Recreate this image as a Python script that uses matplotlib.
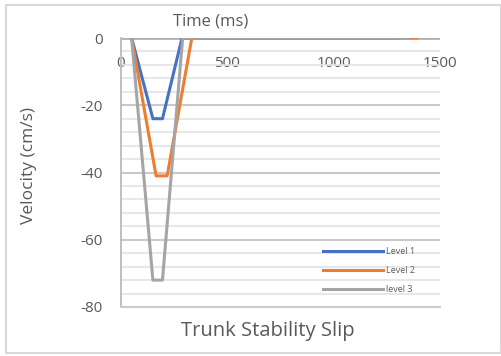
import matplotlib.pyplot as plt
from matplotlib.patches import Rectangle

# series
t_level1 = [50, 150, 195, 287, 1300]
v_level1 = [0, -24, -24, 0, 0]
t_level2 = [50, 165, 217, 333, 1390]
v_level2 = [0, -41, -41, 0, 0]
t_level3 = [50, 150, 195, 290, 1350]
v_level3 = [0, -72, -72, 0, 0]

x_ticks = [0, 500, 1000, 1500]
y_ticks = [0, -20, -40, -60, -80]
y_minor = [-76, -72, -68, -64, -56, -52, -48, -44, -36, -32, -28, -24, -16, -12, -8, -4]
labels = ["Level 1", "Level 2", "level 3"]
colors = ["#4472C4", "#ED7D31", "#A5A5A5"]

plt.rcParams['font.family'] = ['Open Sans', 'DejaVu Sans']
txt = '#595959'

fig = plt.figure(figsize=(5.02, 3.56), dpi=100)
W, H = 502.0, 356.0
fig.patches.append(Rectangle((6 / W, 3 / H), 495 / W, 348 / H, transform=fig.transFigure,
                             fill=False, edgecolor='#d9d9d9', linewidth=1.5))

ax = fig.add_axes([121 / W, 49 / H, 319 / W, 269 / H])

ax.plot(t_level1, v_level1, color=colors[0], linewidth=2.2, label=labels[0], zorder=3)
ax.plot(t_level2, v_level2, color=colors[1], linewidth=2.2, label=labels[1], zorder=3)
ax.plot(t_level3, v_level3, color=colors[2], linewidth=2.2, label=labels[2], zorder=4)
ax.set_xlim(0, 1500)
ax.set_ylim(-80, 0)

for s in ['right', 'top']:
    ax.spines[s].set_visible(False)
ax.spines['left'].set_color('#bfbfbf')
ax.spines['left'].set_linewidth(1.4)
ax.spines['bottom'].set_color('#cccccc')
ax.spines['bottom'].set_linewidth(1.5)

ax.xaxis.set_ticks_position('top')
ax.set_xticks(x_ticks)
ax.set_xticklabels([str(v) for v in x_ticks])
ax.tick_params(axis='x', length=0, pad=-24, labelsize=11, labelcolor=txt)
ax.set_yticks(y_ticks)
ax.set_yticks(y_minor, minor=True)
ax.set_yticklabels([str(v) for v in y_ticks])
ax.tick_params(axis='y', which='both', length=0, pad=13, labelsize=11, labelcolor=txt)

ax.set_axisbelow(True)
ax.grid(axis='y', which='major', color='#c9c9c9', linewidth=1.5)
ax.grid(axis='y', which='minor', color='#e3e3e3', linewidth=1.2)
# horizontal axis line at 0
ax.axhline(0, color='#b0b0b0', linewidth=2.0, zorder=2)

fig.text(211 / W, 1 - 22 / H, "Time (ms)", ha='center', va='center', fontsize=12, color=txt)
fig.text(268 / W, 1 - 331 / H, "Trunk Stability Slip", ha='center', va='center', fontsize=14.5, color=txt)
fig.text(29 / W, 1 - 166 / H, "Velocity (cm/s)", ha='center', va='center', rotation=90,
         fontsize=12.5, color=txt)

leg = ax.legend(loc='upper left', bbox_to_anchor=(323 / W, 1 - 247 / H), bbox_transform=fig.transFigure,
                frameon=False, fontsize=6.5, handlelength=6.6, handletextpad=0.4,
                labelspacing=1.1, borderpad=0, borderaxespad=0)
for t in leg.get_texts():
    t.set_color(txt)

fig.savefig("out.png", dpi=100, facecolor='white')
